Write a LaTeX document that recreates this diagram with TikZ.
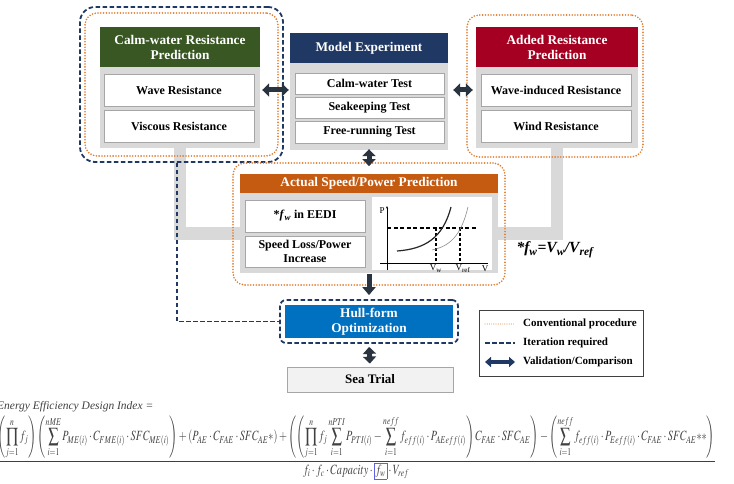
\documentclass[tikz,border=0pt]{standalone}
\usepackage{mathptmx}
\usepackage{graphicx}
\usepackage[no-math]{fontspec}
\setmainfont{Liberation Serif}
\usetikzlibrary{arrows.meta}
\definecolor{cwgreen}{HTML}{385723}
\definecolor{menavy}{HTML}{203864}
\definecolor{adred}{HTML}{A50021}
\definecolor{actorange}{HTML}{C55A11}
\definecolor{hullblue}{HTML}{0070C0}
\definecolor{panelgrey}{HTML}{D9D9D9}
\definecolor{itemborder}{HTML}{A6A6A6}
\definecolor{navyline}{HTML}{203864}
\definecolor{dotorange}{HTML}{E07A2A}
\definecolor{arrowc}{HTML}{2A3340}
\definecolor{seafill}{HTML}{F2F2F2}
\definecolor{eqblue}{HTML}{6060E0}
\definecolor{eqgrey}{HTML}{404040}
\tikzset{
  pnl/.style={fill=panelgrey, draw=none, inner sep=0pt},
  hdbox/.style={text=white, font=\fontsize{13.3}{15}\selectfont\bfseries, align=center, inner sep=0pt},
  itbox/.style={fill=white, draw=itemborder, line width=0.8pt, font=\fontsize{12}{14}\selectfont\bfseries, align=center, inner sep=0pt},
  navydash/.style={draw=navyline, line width=1.8pt, dash pattern=on 4.5pt off 2.5pt},
  orangedot/.style={draw=dotorange, line width=1.8pt, dash pattern=on 0pt off 2.8pt, line cap=round},
  fatarrow/.style={draw=arrowc, line width=5pt, {Triangle[width=13pt,length=7pt]}-{Triangle[width=13pt,length=7pt]}},
  fatdown/.style={draw=arrowc, line width=5pt, -{Triangle[width=13pt,length=8pt]}},
  greybar/.style={draw=panelgrey, line width=12.5pt, line join=miter},
  plotlbl/.style={font=\fontsize{9}{10}\selectfont, inner sep=0pt},
  legtext/.style={font=\fontsize{11}{13}\selectfont\bfseries, anchor=west, inner sep=0pt},
}
\begin{document}
\begin{tikzpicture}[x=1pt,y=-1pt]
\useasboundingbox (0,0) rectangle (734,484);

% ---- panels (nodes) ----
\node[pnl, minimum width=160pt, minimum height=81pt] (cwpanel) at (180,107.5) {};
\node[pnl, minimum width=158pt, minimum height=87pt] (mepanel) at (369,106.5) {};
\node[pnl, minimum width=162pt, minimum height=81pt] (adpanel) at (557,107.5) {};

% ---- grey connector bars ----
\coordinate (barL) at (180,233.5);
\draw[greybar] (cwpanel.south) -- (barL) -- (barL -| adpanel.south) -- (adpanel.south);

% ---- calm-water group ----
\node[hdbox, fill=cwgreen, minimum width=160pt, minimum height=40pt] (cwhead) at (180,47) {Calm-water Resistance\\Prediction};
\node[itbox, minimum width=150pt, minimum height=32pt] (wave) at (179,90) {Wave Resistance};
\node[itbox, minimum width=150pt, minimum height=32pt] (visc) at (179,126) {Viscous Resistance};
\node[navydash, rounded corners=15pt, minimum width=203pt, minimum height=155pt] (cwdash) at (181.5,84.5) {};
\node[orangedot, rounded corners=12pt, minimum width=193pt, minimum height=143pt] (cwdot) at (181.5,84.5) {};

% ---- model experiment ----
\node[hdbox, fill=menavy, minimum width=158pt, minimum height=30pt] (mehead) at (369,48) {Model Experiment};
\node[itbox, minimum width=149pt, minimum height=21pt] (calmtest) at (369.5,83.5) {Calm-water Test};
\node[itbox, minimum width=149pt, minimum height=21pt] (seatest) at (369.5,107.5) {Seakeeping Test};
\node[itbox, minimum width=149pt, minimum height=22pt] (freetest) at (369.5,132) {Free-running Test};

% ---- added resistance ----
\node[hdbox, fill=adred, minimum width=162pt, minimum height=40pt] (adhead) at (557,47) {Added Resistance\\Prediction};
\node[itbox, minimum width=150pt, minimum height=32pt] (winduced) at (556,90) {Wave-induced Resistance};
\node[itbox, minimum width=150pt, minimum height=32pt] (windres) at (556,126) {Wind Resistance};
\node[orangedot, rounded corners=12pt, minimum width=176pt, minimum height=142pt] (addot) at (555,86) {};

% ---- actual speed/power ----
\node[pnl, minimum width=258pt, minimum height=80pt] (actpanel) at (369,233) {};
\node[hdbox, fill=actorange, minimum width=258pt, minimum height=19pt] (acthead) at (369,183.5) {Actual Speed/Power Prediction};
\node[itbox, minimum width=120pt, minimum height=32pt] (fwbox) at (305,216) {*\textit{f}\textsubscript{\textit{w}} in EEDI};
\node[itbox, minimum width=120pt, minimum height=31pt] (slbox) at (305,251.5) {Speed Loss/Power\\Increase};
\node[fill=white, inner sep=0pt, minimum width=120pt, minimum height=73pt] (plot) at (432,233.5) {};
\node[orangedot, rounded corners=12pt, minimum width=272pt, minimum height=122pt] (actdot) at (369,224) {};

% plot contents
\draw[line width=0.6pt, -{Stealth[length=2.5pt,width=2pt]}] (387,270) -- (387,206);
\draw[line width=0.6pt] (380,263) -- (488,263);
\draw[line width=1.3pt, dash pattern=on 4pt off 2.5pt] (387,228) -- (477,228);
\draw[line width=1.3pt, dash pattern=on 3pt off 2pt] (436,228) -- (436,263);
\draw[line width=1.3pt, dash pattern=on 3pt off 2pt] (460,228) -- (460,263);
\draw[line width=1.2pt, black!85] (397,251) .. controls (425,249) and (443,238) .. (451,207);
\draw[line width=0.6pt, black!45] (432,250) .. controls (450,246) and (461,236) .. (468,207);
\node[plotlbl] (plabel) at (382,211) {P};
\node[plotlbl] (vwlabel) at (436,268.5) {V\textsubscript{w}};
\node[plotlbl] (vreflabel) at (463,268.5) {V\textsubscript{ref}};
\node[plotlbl] (vlabel) at (485,268.5) {V};

% ---- hull-form and sea trial ----
\node[hdbox, fill=hullblue, minimum width=168pt, minimum height=33pt] (hull) at (369,321.5) {Hull-form\\Optimization};
\node[navydash, rounded corners=6pt, minimum width=178pt, minimum height=43pt] (hulldash) at (369,321.5) {};
\node[fill=seafill, draw=itemborder, line width=0.8pt, minimum width=166pt, minimum height=25pt, font=\fontsize{13}{15}\selectfont\bfseries, inner sep=0pt] (sea) at (370,379.5) {Sea Trial};

% ---- iteration line ----
\draw[navydash] (cwdash.south -| 177,0) |- (hulldash.west);

% ---- fat arrows ----
\draw[fatarrow, shorten <=2pt, shorten >=1pt] (wave -| cwpanel.east) -- (wave -| mepanel.west);
\draw[fatarrow, shorten <=5pt, shorten >=3pt] (winduced -| mepanel.east) -- (winduced -| adpanel.west);
\draw[fatarrow, shorten <=-1pt, shorten >=-4pt] (mepanel.south) -- (actdot.north);
\draw[fatdown, shorten <=1pt, shorten >=4pt] (actpanel.south) -- (hulldash.north);
\draw[fatarrow, shorten <=3pt, shorten >=3pt] (hulldash.south) -- (sea.north);

% ---- formula text ----
\node[font=\fontsize{15.5}{17}\selectfont\bfseries\itshape, inner sep=0pt] (fwformula) at (555,250) {*f\textsubscript{w}=V\textsubscript{w}/V\textsubscript{ref}};

% ---- legend ----
\node[draw=eqgrey, line width=1pt, minimum width=164pt, minimum height=66pt, inner sep=0pt] (legend) at (561,343) {};
\coordinate (lg1a) at (485,324); \coordinate (lg1b) at (515,324);
\coordinate (lg2a) at (485,343); \coordinate (lg2b) at (515,343);
\coordinate (lg3a) at (485,362); \coordinate (lg3b) at (515,362);
\draw[draw=dotorange!70, line width=1.2pt, dash pattern=on 0pt off 2.2pt, line cap=round] (lg1a) -- (lg1b);
\draw[navydash] (lg2a) -- (lg2b);
\draw[draw=navyline, line width=3.5pt, {Triangle[width=10pt,length=6pt]}-{Triangle[width=10pt,length=6pt]}] (lg3a) -- (lg3b);
\node[legtext] (lgt1) at (523,324) {Conventional procedure};
\node[legtext] (lgt2) at (523,343) {Iteration required};
\node[legtext] (lgt3) at (523,362) {Validation/Comparison};

% ---- EEDI equation ----
\node[anchor=west, inner sep=0pt, font=\fontsize{11.5}{13}\selectfont\itshape, text=eqgrey] (eeditxt) at (-3,407) {Energy Efficiency Design Index =};
\node[anchor=north west, inner sep=0pt, text=eqgrey] (eedi) at (-4,416) {\resizebox*{720pt}{63pt}{$\displaystyle
\frac{\displaystyle\left(\prod_{j=1}^{n} f_j\right)\left(\sum_{i=1}^{nME} P_{ME(i)}\cdot C_{FME(i)}\cdot SFC_{ME(i)}\right)+\left(P_{AE}\cdot C_{FAE}\cdot SFC_{AE}{*}\right)+\left(\left(\prod_{j=1}^{n} f_j\sum_{i=1}^{nPTI} P_{PTI(i)}-\sum_{i=1}^{neff} f_{eff(i)}\cdot P_{AEeff(i)}\right)C_{FAE}\cdot SFC_{AE}\right)-\left(\sum_{i=1}^{neff} f_{eff(i)}\cdot P_{Eeff(i)}\cdot C_{FAE}\cdot SFC_{AE}{**}\right)}{\displaystyle f_i\cdot f_c\cdot Capacity\cdot \setlength{\fboxsep}{1pt}\fcolorbox{eqblue}{white}{$f_w$}\cdot V_{ref}}$}};
\end{tikzpicture}
\end{document}
